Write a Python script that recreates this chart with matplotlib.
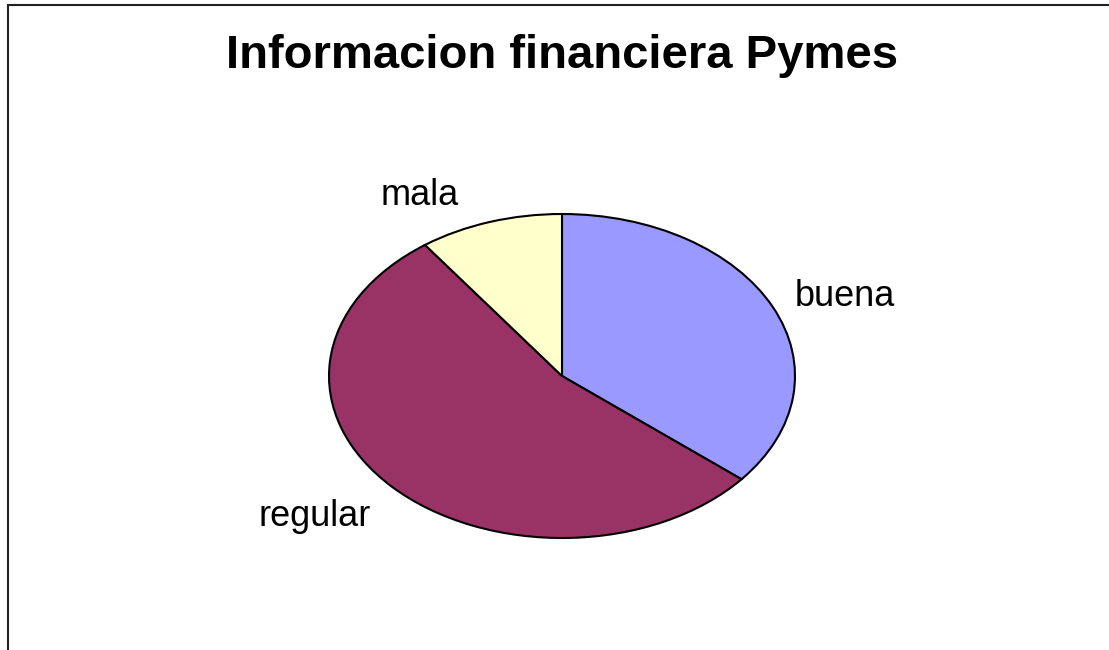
import matplotlib.pyplot as plt
from matplotlib.patches import Rectangle

# data
categories = ['buena', 'regular', 'mala']
values = [36, 54, 10]
colors = ['#9999FF', '#993366', '#FFFFCC']

plt.rcParams['font.family'] = ['Liberation Sans', 'DejaVu Sans']

fig = plt.figure(figsize=(11.09, 6.5), dpi=100)

# outer chart border (only top and left edges are visible in the original)
fig.patches.append(Rectangle((8 / 1109, -0.1), 1.2, 1 - 5 / 650 + 0.1,
                             transform=fig.transFigure, fill=False,
                             edgecolor='#222222', linewidth=1.5))

fig.text(562 / 1109, 1 - 56 / 650, 'Informacion financiera Pymes',
         ha='center', va='center', fontsize=34, fontweight='bold')

# elliptical pie: axes stretched, aspect auto
ax = fig.add_axes([(562 - 233) / 1109, (650 - 538) / 650, 466 / 1109, 324 / 650])
wedges, _ = ax.pie(values, colors=colors, startangle=90, counterclock=False,
                   radius=1, wedgeprops=dict(edgecolor='black', linewidth=1.5))
ax.set_aspect('auto')
ax.set_xlim(-1, 1)
ax.set_ylim(-1, 1)

# label placement (layout, in pie coordinates)
label_pos = {'buena': (1.215, 0.488), 'regular': (-1.06, -0.87), 'mala': (-0.61, 1.117)}
for name in categories:
    x, y = label_pos[name]
    ax.text(x, y, name, ha='center', va='center', fontsize=26, clip_on=False)

fig.savefig('out.png', dpi=100)
